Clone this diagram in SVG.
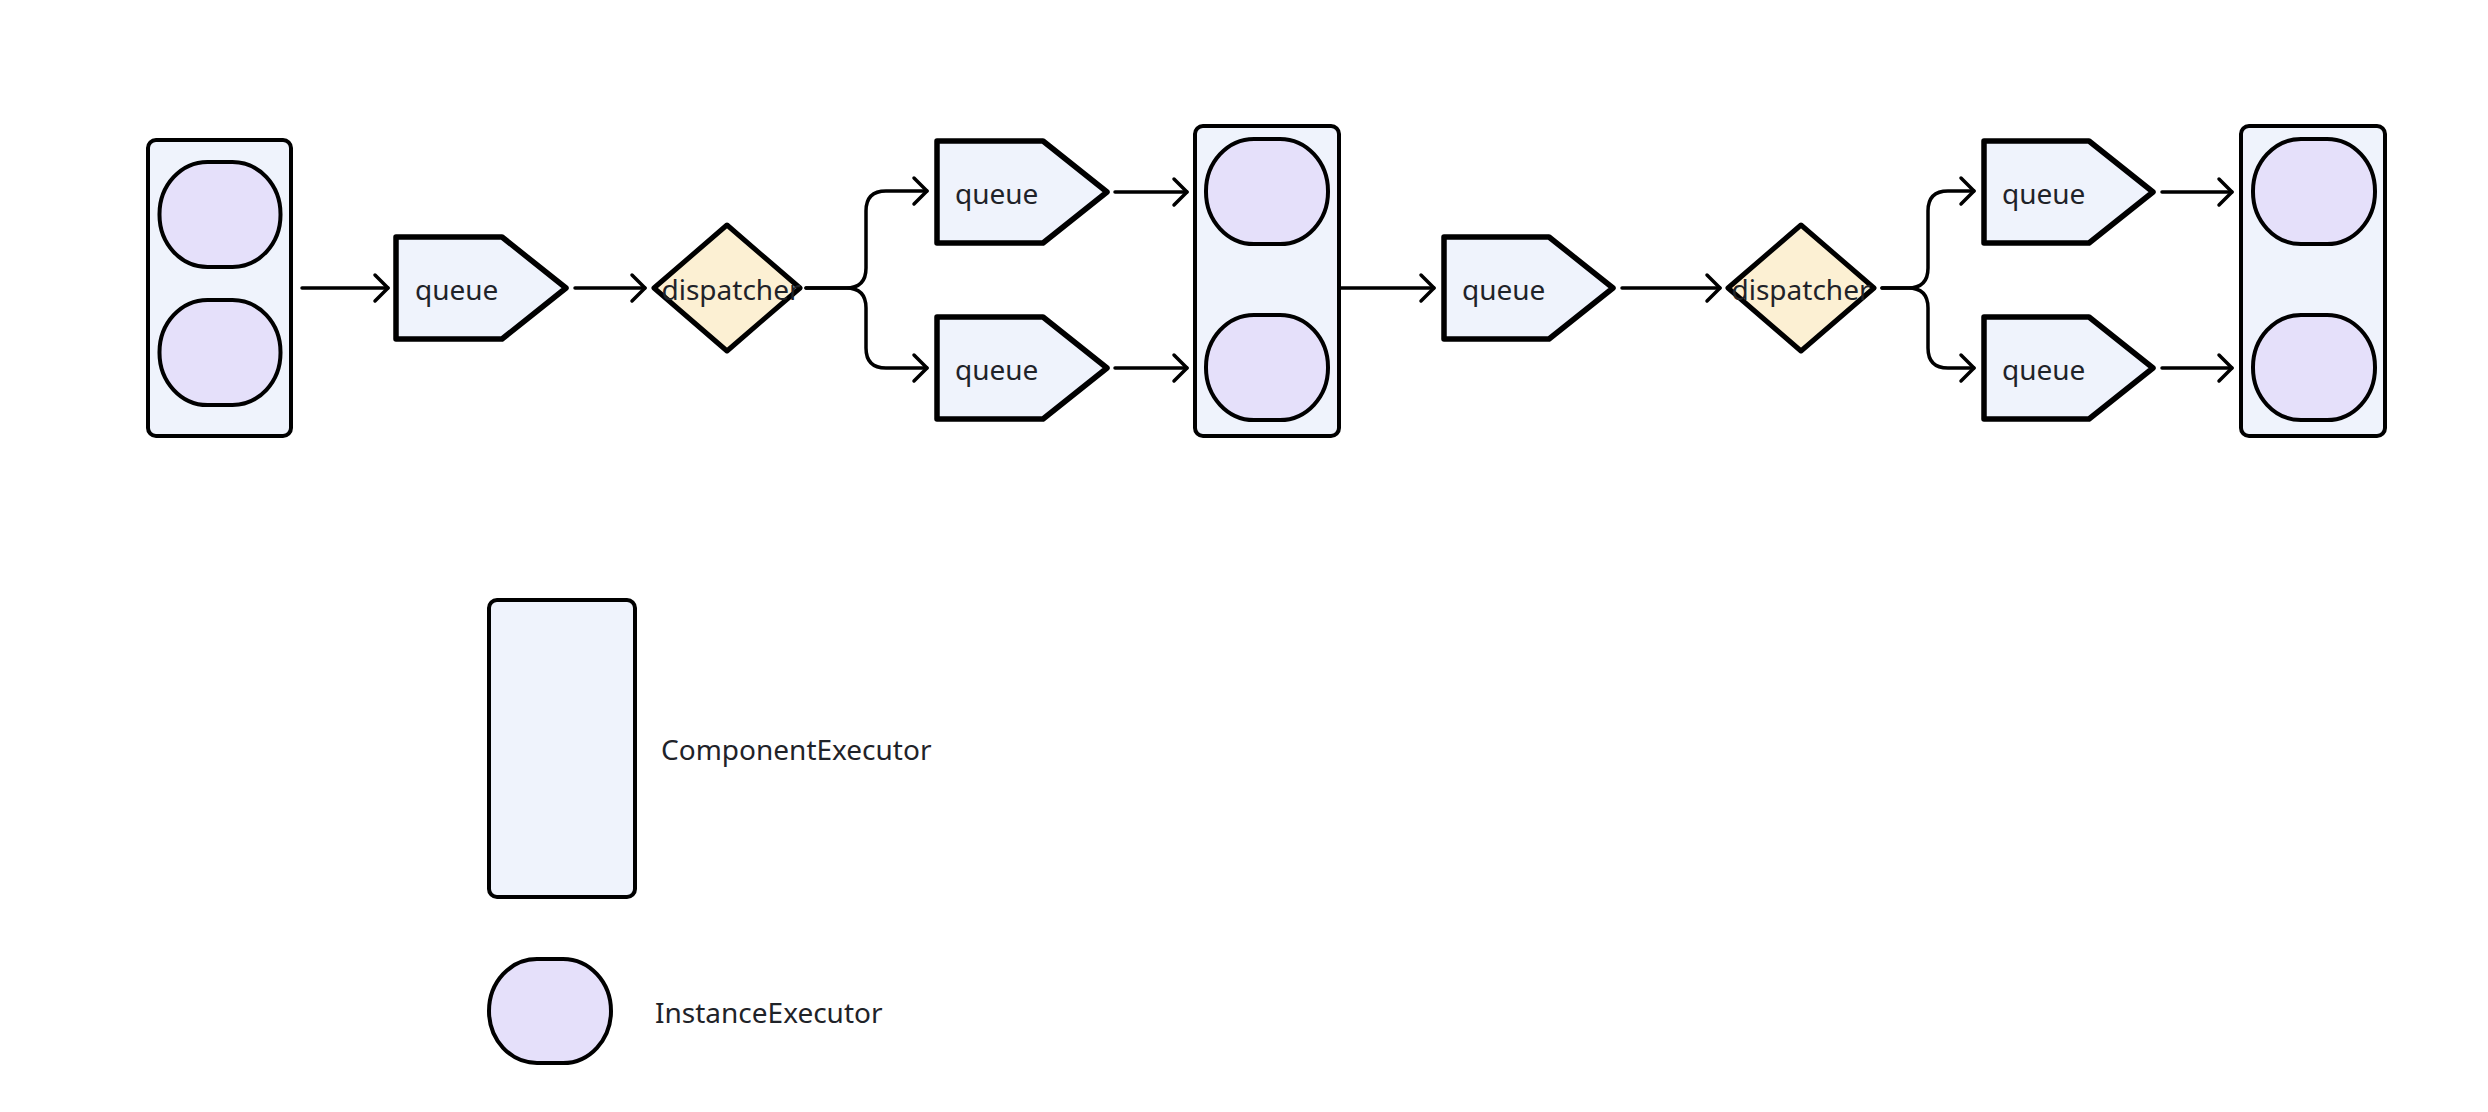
<svg xmlns="http://www.w3.org/2000/svg" width="2488" height="1112" viewBox="0 0 2488 1112">
<style>
.comp{fill:#eff3fc;stroke:#000;stroke-width:4}
.inst{fill:#e5e0fa;stroke:#000;stroke-width:4}
.queue{fill:#eff3fc;stroke:#000;stroke-width:5.5;stroke-linejoin:round}
.disp{fill:#fcf0d3;stroke:#000;stroke-width:5;stroke-linejoin:round}
.lbl{font-family:"Noto Sans","Open Sans",sans-serif;font-size:28px;fill:#1f2329}
.edge{fill:none;stroke:#000;stroke-width:3.5;stroke-linecap:round;marker-end:url(#arr)}
</style>
<defs>
<marker id="arr" markerUnits="userSpaceOnUse" viewBox="-16 -16 20 32" refX="0" refY="0" markerWidth="20" markerHeight="32" orient="auto">
<path d="M-13,-13 L0,0 L-13,13" fill="none" stroke="#000" stroke-width="3.5" stroke-linecap="round" stroke-linejoin="round"/>
</marker>
</defs>
<rect width="2488" height="1112" fill="#fff"/>
<g id="connectors">
<path class="edge" d="M302 288 H388"/>
<path class="edge" d="M575 288 H645"/>
<path class="edge" d="M806 288 H846 Q866 288 866 268 V211 Q866 191 886 191 H927"/>
<path class="edge" d="M806 288 H846 Q866 288 866 308 V348 Q866 368 886 368 H927"/>
<path class="edge" d="M1115 192 H1187"/>
<path class="edge" d="M1115 368 H1187"/>
<path class="edge" d="M1341 288 H1434"/>
<path class="edge" d="M1622 288 H1720"/>
<path class="edge" d="M1882 288 H1908 Q1928 288 1928 268 V211 Q1928 191 1948 191 H1974"/>
<path class="edge" d="M1882 288 H1908 Q1928 288 1928 308 V348 Q1928 368 1948 368 H1974"/>
<path class="edge" d="M2162 192 H2232"/>
<path class="edge" d="M2162 368 H2232"/>
</g>
<g id="comp1">
<rect class="comp" x="148" y="140" width="143" height="296" rx="8"/>
<rect class="inst" x="159.5" y="162" width="121" height="105" rx="48" ry="52"/>
<rect class="inst" x="159.5" y="300" width="121" height="105" rx="48" ry="52"/>
</g>
<g id="queue1">
<path class="queue" d="M396 237 H502 L566 288 L502 339 H396 Z"/>
<text class="lbl" x="415" y="300">queue</text>
</g>
<g id="dispatcher1">
<path class="disp" d="M727 225 L800 288 L727 351 L654 288 Z"/>
<text class="lbl" x="731" y="300" text-anchor="middle">dispatcher</text>
</g>
<g id="queue2">
<path class="queue" d="M937 141 H1043 L1107 192 L1043 243 H937 Z"/>
<text class="lbl" x="955" y="204">queue</text>
</g>
<g id="queue3">
<path class="queue" d="M937 317 H1043 L1107 368 L1043 419 H937 Z"/>
<text class="lbl" x="955" y="380">queue</text>
</g>
<g id="comp2">
<rect class="comp" x="1195" y="126" width="144" height="310" rx="8"/>
<rect class="inst" x="1206" y="139" width="122" height="105" rx="48" ry="52"/>
<rect class="inst" x="1206" y="315" width="122" height="105" rx="48" ry="52"/>
</g>
<g id="queue4">
<path class="queue" d="M1444 237 H1549 L1613 288 L1549 339 H1444 Z"/>
<text class="lbl" x="1462" y="300">queue</text>
</g>
<g id="dispatcher2">
<path class="disp" d="M1801 225 L1874 288 L1801 351 L1728 288 Z"/>
<text class="lbl" x="1801" y="300" text-anchor="middle">dispatcher</text>
</g>
<g id="queue5">
<path class="queue" d="M1984 141 H2089 L2153 192 L2089 243 H1984 Z"/>
<text class="lbl" x="2002" y="204">queue</text>
</g>
<g id="queue6">
<path class="queue" d="M1984 317 H2089 L2153 368 L2089 419 H1984 Z"/>
<text class="lbl" x="2002" y="380">queue</text>
</g>
<g id="comp3">
<rect class="comp" x="2241" y="126" width="144" height="310" rx="8"/>
<rect class="inst" x="2253" y="139" width="122" height="105" rx="48" ry="52"/>
<rect class="inst" x="2253" y="315" width="122" height="105" rx="48" ry="52"/>
</g>
<g id="legend-comp">
<rect class="comp" x="489" y="600" width="146" height="297" rx="8"/>
<text class="lbl" x="661" y="760">ComponentExecutor</text>
</g>
<g id="legend-inst">
<rect class="inst" x="489" y="959" width="122" height="104" rx="48" ry="52"/>
<text class="lbl" x="655" y="1023">InstanceExecutor</text>
</g>
</svg>
